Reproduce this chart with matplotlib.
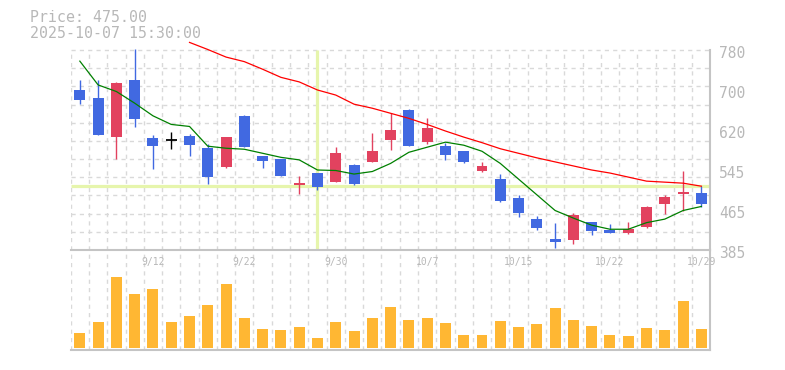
import matplotlib.pyplot as plt
import numpy as np

dates = ['9/8', '9/9', '9/10', '9/11', '9/12', '9/16', '9/17', '9/18', '9/19',
         '9/22', '9/24', '9/25', '9/26', '9/29', '9/30', '10/1', '10/2', '10/3',
         '10/6', '10/7', '10/8', '10/9', '10/10', '10/14', '10/15', '10/16',
         '10/17', '10/20', '10/21', '10/22', '10/23', '10/24', '10/27', '10/28',
         '10/29']
opens = [701, 685, 609, 721, 606, 602, 610, 587, 549, 650, 571, 565, 513, 537,
         520, 553, 559, 603, 662, 599, 590, 581, 542, 525, 488, 446, 407, 405,
         440, 425, 419, 431, 475, 496, 498]
highs = [721, 721, 716, 781, 612, 618, 614, 594, 608, 652, 571, 565, 531, 537,
         589, 555, 617, 656, 664, 646, 597, 581, 559, 535, 494, 452, 438, 459,
         440, 436, 440, 472, 493, 541, 511]
lows = [673, 612, 564, 628, 545, 585, 571, 515, 547, 589, 547, 531, 496, 504,
        520, 513, 559, 583, 591, 594, 563, 557, 539, 480, 451, 425, 388, 396,
        415, 419, 417, 428, 457, 463, 470]
closes = [681, 613, 715, 644, 590, 602, 592, 530, 608, 589, 561, 532, 517, 509,
          577, 515, 581, 622, 591, 626, 573, 559, 551, 482, 459, 429, 401, 454,
          423, 419, 427, 470, 490, 500, 475]
ma_short = [758, 711, 698, 675, 650, 633, 629, 590, 586, 584, 576, 568, 563,
            543, 542, 535, 540, 556, 578, 588, 598, 592, 580, 556, 525, 494,
            463, 448, 434, 426, 426, 439, 446, 463, 471]
ma_long = [np.nan] * 6 + [795, 781, 766, 757, 742, 726, 717, 701, 691, 673,
                          665, 655, 645, 633, 620, 608, 597, 585, 576, 567,
                          559, 551, 543, 537, 529, 521, 519, 517, 511]
volume = [45, 78, 213, 162, 177, 78, 96, 129, 192, 90, 57, 54, 63, 30, 78, 51,
          90, 123, 84, 90, 75, 39, 39, 81, 63, 72, 120, 84, 66, 39, 36, 60, 54,
          141, 57]
price_labels = ['780', '700', '620', '545', '465', '385']
date_ticks = [4, 9, 14, 19, 24, 29, 34]
cross_idx = 13
cross_price = 511
info_lines = ['Price: 475.00', '2025-10-07 15:30:00']

UP = '#e2425f'
DOWN = '#4169e1'
GRID = '#d9d9d9'
AXIS = '#c4c4c4'
TXT = '#b8b8b8'
CROSS = '#e6f5ac'
MONO = 'DejaVu Sans Mono'

W, H = 785, 370
fig = plt.figure(figsize=(W / 100, H / 100), dpi=100)
x0, x1 = 70.7, 710.5
ax = fig.add_axes([x0 / W, 1 - 250 / H, (x1 - x0) / W, 210 / H])
axv = fig.add_axes([x0 / W, 1 - 350 / H, (x1 - x0) / W, 100 / H])

n = len(dates)
xs = np.arange(n)
pmin, pmax = 385, 780
ptop = pmax + 10 * (pmax - pmin) / 200
for a in (ax, axv):
    a.set_xlim(-0.5, n - 0.5)
    a.axis('off')
ax.set_ylim(pmin, ptop)
axv.set_ylim(-6, 294)

# grid
ax.vlines(np.arange(n + 1) - 0.5, pmin, pmax, colors=GRID, lw=1,
          linestyles=(0, (3, 3)), zorder=0)
ax.hlines(np.linspace(pmin, pmax, 12), -0.5, n - 0.5, colors=GRID, lw=1,
          linestyles=(0, (3, 3)), zorder=0)
axv.vlines(np.arange(n + 1) - 0.5, -6, 294, colors=GRID, lw=1,
           linestyles=(0, (3, 3)), zorder=0)

# crosshair
ax.vlines(cross_idx, pmin, pmax, colors=CROSS, lw=2.3, zorder=1)
ax.hlines(cross_price, -0.5, n - 0.5, colors=CROSS, lw=2.3, zorder=1)

# candles
for i in range(n):
    o, h, l, c = opens[i], highs[i], lows[i], closes[i]
    col = UP if c > o else (DOWN if c < o else 'black')
    ax.vlines(i, l, h, colors=col, lw=1.0, zorder=3)
    if c == o:
        ax.hlines(o, i - 0.3, i + 0.3, colors=col, lw=1.3, zorder=3)
    else:
        ax.bar(i, abs(c - o), bottom=min(o, c), width=0.6, color=col,
               lw=0, zorder=3)

ax.plot(xs, ma_short, color='#008000', lw=0.9, zorder=4)
ax.plot(xs, ma_long, color='#ff0000', lw=0.9, zorder=4)

# volume
axv.bar(xs, volume, width=0.6, color='#ffb733', lw=0, zorder=2)

# frame lines
ax.plot([-0.5, n - 0.5], [pmin, pmin], color=AXIS, lw=1.5, clip_on=False)
ax.plot([n - 0.5, n - 0.5], [pmin, pmax], color=AXIS, lw=1.5, clip_on=False)
axv.plot([n - 0.5, n - 0.5], [-6, 294], color=AXIS, lw=1.5, clip_on=False)
axv.plot([-0.5, n - 0.5], [-6, -6], color=AXIS, lw=1.5, clip_on=False)

# price labels
for lab, v in zip(price_labels, np.linspace(pmax, pmin, len(price_labels))):
    ax.annotate(lab, xy=(1, v), xycoords=('axes fraction', 'data'),
                xytext=(8.5, -3), textcoords='offset pixels', ha='left',
                va='center', fontsize=10.5, family=MONO, color=TXT,
                annotation_clip=False)

# date labels
for i in date_ticks:
    axv.annotate(dates[i], xy=(i, 294), xycoords='data', xytext=(0, -11.5),
                 textcoords='offset pixels', ha='center', va='center',
                 fontsize=7, family=MONO, color=TXT, annotation_clip=False,
                 zorder=5)

fig.text(30 / W, 1 - 18 / H, info_lines[0], ha='left', va='center',
         fontsize=10.7, family=MONO, color=TXT)
fig.text(30 / W, 1 - 33 / H, info_lines[1], ha='left', va='center',
         fontsize=10.7, family=MONO, color=TXT)

fig.savefig('out.png', dpi=100)
